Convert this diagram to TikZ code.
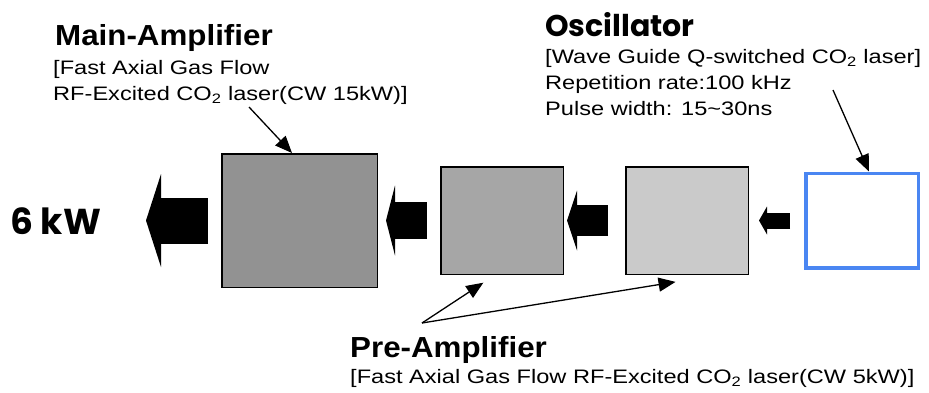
\documentclass[tikz,border=0pt]{standalone}
\usepackage{fontspec}
\setmainfont{Liberation Sans}
\newfontfamily\notefont{Liberation Sans}[FakeStretch=1.21]
\newfontfamily\headfont{Liberation Sans}[FakeStretch=1.08]
\newfontfamily\roundfont{Poppins}
\usepackage{tikz}
\usetikzlibrary{arrows.meta,positioning}
\definecolor{MainGray}{HTML}{929292}
\definecolor{PreGray}{HTML}{A6A6A6}
\definecolor{PreLight}{HTML}{CACACA}
\definecolor{OscBlue}{HTML}{4A86F2}
\newcommand{\cotwo}{CO\textsubscript{2}}

\begin{document}
\begin{tikzpicture}[
        x=1pt,y=-1pt,
        every node/.style={inner sep=0pt},
        amp/.style={draw,line width=1.5pt},
        headtext/.style={anchor=base west,font=\headfont\bfseries\fontsize{29}{32}\selectfont},
        notetext/.style={anchor=base west,align=left,font=\notefont\fontsize{19.5}{26}\selectfont},
        roundtext/.style={anchor=base west,font=\roundfont\bfseries\fontsize{#1}{#1}\selectfont},
        fat/.style n args={3}{line width=#1,-{Triangle[length=#2,width=#3,line width=0pt]}},
        ptr/.style={line width=1.3pt,-{Triangle[length=17pt,width=14pt]}}
      ]
      \useasboundingbox (0,0) rectangle (929,392);

      % amplifier chain
      \node[amp,fill=MainGray,minimum width=155.5pt,minimum height=133.5pt] (main) at (299.5,220.5) {};
      \node[amp,fill=PreGray,minimum width=122.5pt,minimum height=107.5pt,right=62pt of main] (pre1) {};
      \node[amp,fill=PreLight,minimum width=122.5pt,minimum height=107.5pt,right=61pt of pre1] (pre2) {};
      \node[draw=OscBlue,line width=3.5pt,fill=white,minimum width=112.5pt,minimum height=94.5pt,right=55pt of pre2] (osc) {};
      \coordinate (out) at (146,220.5);

      % beam
      \draw[fat={46pt}{15pt}{93pt},shorten <=13pt] (main) -- (out);
      \draw[fat={37pt}{9pt}{70pt},shorten <=13pt,shorten >=8pt] (pre1) -- (main);
      \draw[fat={31pt}{10pt}{60pt},shorten <=17pt,shorten >=3pt] (pre2) -- (pre1);
      \draw[fat={16pt}{8pt}{28pt},shorten <=14pt,shorten >=10pt] (osc) -- (pre2);

      % labels (base = last line)
      \node[roundtext=36] (power) at (10,234) {6 kW};
      \node[headtext] (maintitle) at (55,45) {Main-Amplifier};
      \node[notetext] (mainnote) at (53,100.5) {[Fast Axial Gas Flow\\RF-Excited \cotwo{} laser(CW 15kW)]};
      \node[roundtext=30] (osctitle) at (545,36) {Oscillator};
      \node[notetext] (oscnote) at (545,115) {[Wave Guide Q-switched \cotwo{} laser]\\Repetition rate:100 kHz\\Pulse width: 15\textasciitilde30ns};
      \node[headtext] (pretitle) at (350,357) {Pre-Amplifier};
      \node[notetext] (prenote) at (350,383) {[Fast Axial Gas Flow RF-Excited \cotwo{} laser(CW 5kW)]};

      % pointers
      \coordinate (mainfoot) at (249,107);
      \coordinate (oscfoot) at (833,90);
      \coordinate (prefoot) at (422,323);
      \draw[ptr] (mainfoot) -- ([xshift=-7.5pt]main.north);
      \draw[ptr] (oscfoot) -- ([xshift=7pt]osc.north);
      \draw[ptr,shorten >=14pt] (prefoot) -- ([xshift=-7pt]pre1.south);
      \draw[ptr,shorten >=43pt] (prefoot) -- ([xshift=31pt]pre2.south);
    \end{tikzpicture}
\end{document}
